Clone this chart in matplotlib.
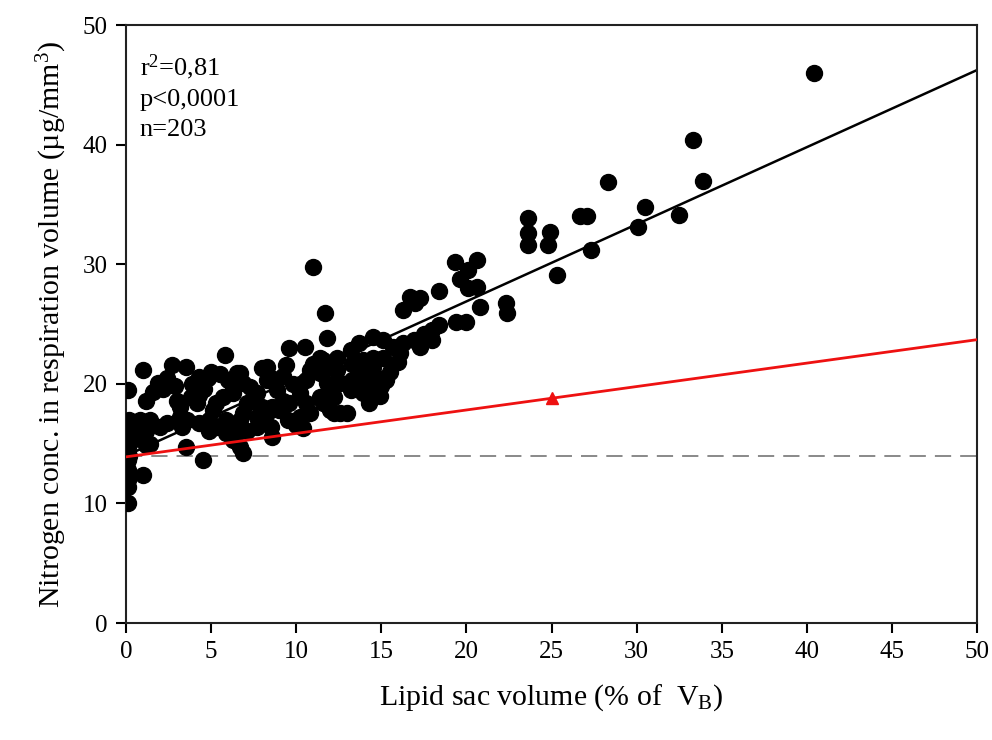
import numpy as np
import matplotlib
matplotlib.use("Agg")
import matplotlib.pyplot as plt

# ---------------------------------------------------------------------------
# Datos
# ---------------------------------------------------------------------------
lipid_x = [
    0.1, 0.1, 0.1, 0.1, 0.1, 0.1, 0.1, 0.1, 0.1, 0.3, 0.3, 0.2,
    1.0, 1.2, 1.0,
    2.7, 3.5, 1.9, 1.6, 1.2, 2.4, 4.3, 4.8, 5.8, 3.0, 3.2, 3.8, 4.2, 4.3,
    5.3, 5.1, 6.5, 6.9, 6.3, 8.0, 8.3, 7.7, 7.1,
    0.2, 0.8, 1.4, 2.0, 2.4, 1.2, 0.4, 1.4, 3.3, 3.6, 3.2, 4.3, 4.9, 5.3,
    3.5, 4.5, 4.9, 5.9, 5.9, 6.3, 6.9, 6.7, 7.1, 7.7, 7.9, 8.6, 8.3, 8.6,
    9.6, 10.5, 11.8, 11.7, 11.0, 6.7, 8.3, 8.5, 7.3, 6.3, 7.5, 8.0, 6.9,
    7.7, 8.9, 9.2, 9.0, 9.6, 10.2, 10.6, 11.0, 11.4, 10.8, 11.4, 12.0,
    10.6, 10.2, 10.8, 11.4, 12.0, 12.2, 9.5, 6.7, 5.9, 8.5,
    16.7, 17.0, 16.3, 12.4, 13.2, 13.7, 14.5, 15.1, 15.7, 16.3, 16.9,
    17.5, 18.0, 17.3, 16.1, 11.6, 12.4, 13.3, 13.9, 14.5, 15.1, 14.5,
    13.9, 14.7, 13.3, 12.6, 11.8, 12.2, 11.6, 13.2, 13.9, 14.7, 14.3,
    12.0, 12.6, 13.0,
    40.4, 33.3, 33.9, 28.3, 30.5, 32.5, 30.1, 26.7, 27.1, 27.3, 25.3,
    23.6, 23.6, 23.6, 24.9, 24.8, 19.3, 20.6, 20.1, 19.6, 20.1, 20.6,
    18.4, 20.8, 22.3, 22.4, 17.3, 18.4, 19.4, 20.0, 17.6, 18.0,
    5.7, 6.7, 6.3, 15.5, 16.0, 15.3, 14.0, 2.2, 2.9, 5.5, 5.0, 6.0, 4.6,
    3.9, 9.2, 9.8, 9.4, 14.9, 15.0, 10.0, 10.4,
]
nitrogen_y = [
    19.5, 16.7, 15.9, 14.7, 13.6, 12.8, 12.0, 11.4, 10.0, 16.5, 15.2, 14.0,
    12.4, 14.9, 21.2,
    21.6, 21.4, 20.1, 19.3, 18.6, 20.5, 20.6, 20.5, 22.4, 18.6, 18.1, 18.9,
    18.4, 19.1, 18.4, 17.8, 20.9, 20.1, 19.7, 21.3, 20.3, 19.2, 18.4,
    17.0, 17.0, 17.0, 16.4, 16.7, 16.1, 15.6, 15.0, 16.4, 17.0, 17.2, 16.7,
    17.0, 16.4, 14.7, 13.6, 16.1, 17.0, 15.9, 15.6, 14.2, 14.7, 16.1, 16.4,
    17.0, 15.6, 17.6, 18.1,
    23.0, 23.1, 23.8, 25.9, 29.8, 20.9, 21.4, 20.5, 19.7, 19.2, 18.6, 18.1,
    17.6, 17.2, 19.5, 18.6, 17.8, 18.4, 19.2, 20.3, 21.7, 22.2, 21.2, 20.9,
    21.4, 18.4, 17.2, 17.6, 18.9, 19.5, 17.6, 17.0, 16.1, 16.7, 16.4,
    27.3, 26.8, 26.2, 22.2, 22.8, 23.4, 23.9, 23.7, 23.1, 23.4, 23.7, 24.2,
    24.5, 23.1, 22.6, 22.0, 21.2, 21.7, 22.0, 22.2, 22.2, 21.4, 20.9, 20.6,
    20.3, 20.1, 20.1, 18.9, 18.4, 19.5, 19.2, 19.2, 18.4, 17.8, 17.6, 17.6,
    46.0, 40.4, 37.0, 36.9, 34.8, 34.1, 33.1, 34.0, 34.0, 31.2, 29.1, 33.9,
    32.6, 31.6, 32.7, 31.6, 30.2, 30.4, 29.5, 28.8, 28.0, 28.1, 27.8, 26.4,
    26.8, 25.9, 27.2, 24.9, 25.2, 25.2, 23.9, 23.7,
    18.9, 17.0, 15.3, 21.0, 21.8, 20.3, 19.9, 19.6, 19.8, 20.8, 21.0, 20.3,
    19.6, 20.0, 20.7, 20.0, 21.6, 19.0, 19.8, 16.6, 16.3,
]

# Rectas de regresion / referencia
fit_x = [0, 50]
fit_y = [14.0, 46.25]
red_x = [0, 50]
red_y = [13.9, 23.7]
red_point_x = [25.0]
red_point_y = [18.8]
base_y = 14.0

x_ticks = list(range(0, 51, 5))
y_ticks = list(range(0, 51, 10))

# ---------------------------------------------------------------------------
# Estilo
# ---------------------------------------------------------------------------
plt.rcParams['font.family'] = ['Liberation Serif', 'DejaVu Serif']
plt.rcParams['mathtext.fontset'] = 'custom'
plt.rcParams['mathtext.rm'] = 'Liberation Serif'
plt.rcParams['mathtext.it'] = 'Liberation Serif:italic'
plt.rcParams['mathtext.bf'] = 'Liberation Serif:bold'

fig = plt.figure(figsize=(9.92, 7.40), dpi=100)
ax = fig.add_axes([0.127, 0.158, 0.858, 0.808])

ax.plot(lipid_x, nitrogen_y, 'o', color='black', markersize=11.5, zorder=3)
ax.plot(fit_x, fit_y, color='black', linewidth=1.8, zorder=2)
ax.plot(red_x, red_y, color='#ee1111', linewidth=2.0, zorder=4)
ax.plot(red_point_x, red_point_y, '^', color='#ee1111', markersize=9, zorder=5)
ax.axhline(base_y, color='#808080', linewidth=1.3, linestyle=(0, (9, 5)), zorder=1)

ax.set_xlim(0, 50)
ax.set_ylim(0, 50)
ax.set_xticks(x_ticks)
ax.set_yticks(y_ticks)
ax.tick_params(direction='out', length=7, width=1.5, labelsize=18, pad=6,
               top=False, right=False)
for s in ax.spines.values():
    s.set_linewidth(1.5)
    s.set_color('#222222')

ax.set_xlabel('Lipid sac volume (% of  V$_\\mathrm{B}$)', fontsize=21.5, labelpad=14)
ax.set_ylabel('Nitrogen conc. in respiration volume (\u00b5g/mm$^3$)', fontsize=21.5,
              labelpad=10)

ax.text(0.016, 0.955, 'r$^2$=0,81\np<0,0001\nn=203', transform=ax.transAxes,
        fontsize=19, va='top', ha='left', linespacing=1.45)

fig.savefig('out.png', dpi=100)
